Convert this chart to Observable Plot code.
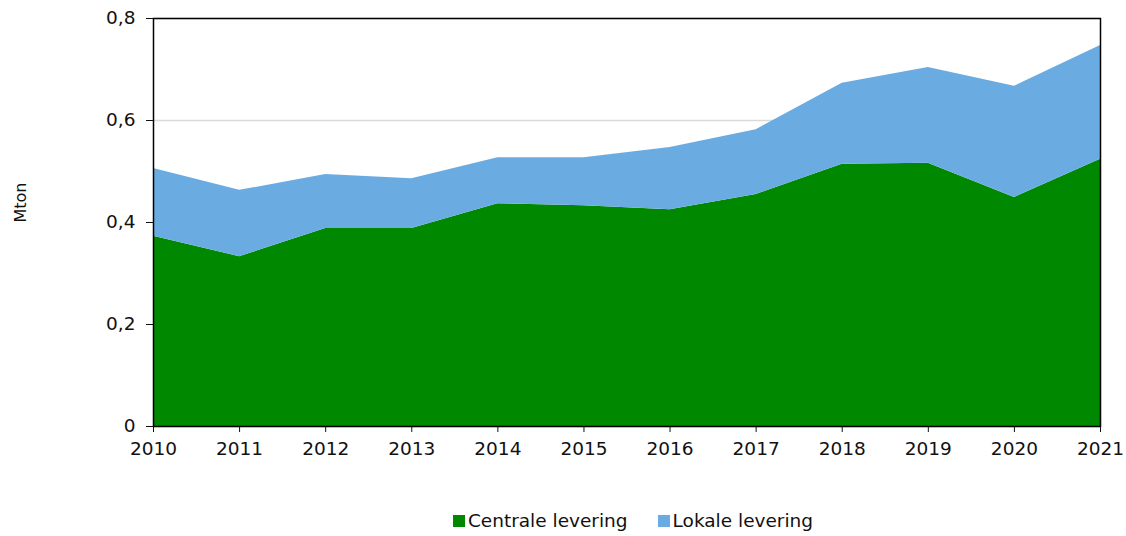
<!DOCTYPE html>
<html>
<head>
<meta charset="utf-8">
<script src="https://cdn.jsdelivr.net/npm/d3@7"></script>
<script src="https://cdn.jsdelivr.net/npm/@observablehq/plot@0.6"></script>
<style>
  body { margin: 0; background: #fff; font-family: "DejaVu Sans", Verdana, sans-serif; }
  #chart svg { display: block; }
  #legend { display: flex; justify-content: center; gap: 30px; font-size: 18.5px; color: #111; margin-left: 140px; margin-top: 40px; }
  #legend span.item { display: flex; align-items: center; }
  #legend span.sw { display: inline-block; width: 12px; height: 12px; margin-right: 3px; }
</style>
</head>
<body>
<div id="chart"></div>
<div id="legend"></div>
<script>
const years = [2010, 2011, 2012, 2013, 2014, 2015, 2016, 2017, 2018, 2019, 2020, 2021];
const centrale = [0.373, 0.333, 0.388, 0.388, 0.437, 0.433, 0.425, 0.455, 0.514, 0.516, 0.449, 0.524];
const lokale = [0.133, 0.130, 0.106, 0.098, 0.090, 0.094, 0.122, 0.127, 0.159, 0.188, 0.218, 0.223];
const seriesNames = ["Centrale levering", "Lokale levering"];
const seriesColors = ["#008800", "#6aace2"];
const yTicks = [0, 0.2, 0.4, 0.6, 0.8];

const data = [];
years.forEach((y, i) => {
  data.push({year: y, series: seriesNames[0], value: centrale[i]});
  data.push({year: y, series: seriesNames[1], value: lokale[i]});
});

const fmtY = d => d === 0 ? "0" : d.toFixed(1).replace(".", ",");

const chart = Plot.plot({
  width: 1126,
  height: 470,
  marginLeft: 153,
  marginRight: 26,
  marginTop: 18,
  marginBottom: 44,
  style: {fontFamily: "'DejaVu Sans', Verdana, sans-serif", fontSize: "18px", color: "#111"},
  x: {domain: [2010, 2021], ticks: years, tickFormat: d => String(d)},
  y: {domain: [0, 0.8], ticks: yTicks, tickFormat: fmtY},
  color: {domain: seriesNames, range: seriesColors},
  marks: [
    Plot.gridY(yTicks, {stroke: "#d9d9d9", strokeOpacity: 1, strokeWidth: 1.5}),
    Plot.areaY(data, {x: "year", y: "value", fill: "series", order: seriesNames}),
    Plot.frame({stroke: "#000", strokeWidth: 1.5}),
    Plot.axisY({ticks: yTicks, tickFormat: fmtY, tickSize: 7, tickPadding: 11, fontSize: 18.5, label: null}),
    Plot.axisX({ticks: years, tickFormat: d => String(d), tickSize: 6, tickPadding: 9, fontSize: 18.5, label: null}),
    Plot.text(["Mton"], {frameAnchor: "left", dx: -133, rotate: -90, fontSize: 16, fill: "#111"})
  ]
});
document.getElementById("chart").appendChild(chart);

const legend = document.getElementById("legend");
seriesNames.forEach((name, i) => {
  const item = document.createElement("span");
  item.className = "item";
  const sw = document.createElement("span");
  sw.className = "sw";
  sw.style.background = seriesColors[i];
  item.appendChild(sw);
  item.appendChild(document.createTextNode(name));
  legend.appendChild(item);
});
</script>
</body>
</html>
